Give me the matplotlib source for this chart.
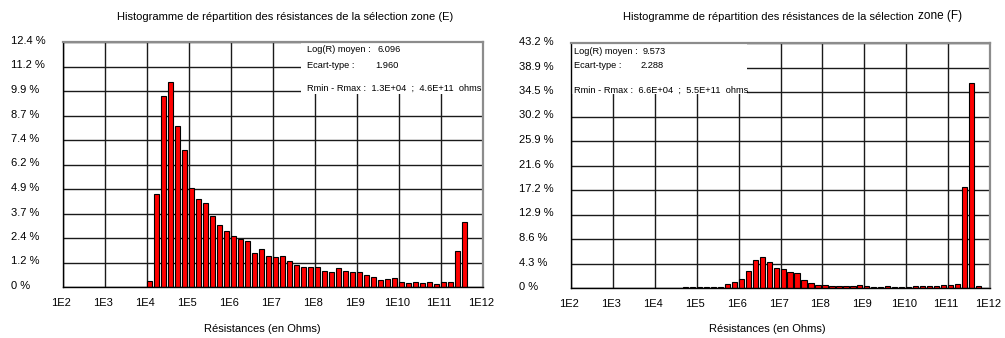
import matplotlib.pyplot as plt
import matplotlib.patches as patches
from matplotlib.transforms import ScaledTranslation

plt.rcParams['font.family'] = ['Liberation Sans', 'DejaVu Sans']

# histogrammes par classes de 1/6 de décade (log10 de la borne basse)
start_e = 4.0
pct_e = [0.30, 4.71, 9.69, 10.38, 8.16, 6.91, 5.00, 4.45, 4.27, 3.59,
         3.12, 2.83, 2.57, 2.42, 2.34, 1.73, 1.90, 1.56, 1.51, 1.56,
         1.32, 1.12, 1.00, 1.00, 1.00, 0.80, 0.76, 0.97, 0.81, 0.76,
         0.76, 0.59, 0.52, 0.36, 0.39, 0.44, 0.25, 0.20, 0.27, 0.22,
         0.27, 0.17, 0.23, 0.23, 1.81, 3.29]

start_f = 4.0 + 4 / 6
pct_f = [0.10, 0.10, 0.10, 0.10, 0.10, 0.20, 0.70, 1.10, 1.60, 3.00,
         4.90, 5.40, 4.60, 3.60, 3.30, 2.90, 2.60, 1.40, 0.80, 0.50,
         0.50, 0.30, 0.30, 0.30, 0.30, 0.45, 0.30, 0.20, 0.20, 0.30,
         0.20, 0.20, 0.20, 0.30, 0.30, 0.30, 0.30, 0.45, 0.60, 0.70,
         17.8, 36.1, 0.30]

ymax_e = 12.4
ylab_e = ['0 %', '1.2 %', '2.4 %', '3.7 %', '4.9 %', '6.2 %', '7.4 %', '8.7 %', '9.9 %', '11.2 %', '12.4 %']
ymax_f = 43.2
ylab_f = ['0 %', '4.3 %', '8.6 %', '12.9 %', '17.2 %', '21.6 %', '25.9 %', '30.2 %', '34.5 %', '38.9 %', '43.2 %']
decades = list(range(2, 13))
xlab = ['1E%d' % d for d in decades]

stats_e = ['6.096', '1.960', '1.3E+04', '4.6E+11']
stats_f = ['9.573', '2.288', '6.6E+04', '5.5E+11']

W, H = 1005, 338
fig = plt.figure(figsize=(W / 100, H / 100), dpi=100)


def px(x, y):
    return x / W, 1 - y / H


def draw(rect, start, pct, ymax, ylabels, white):
    ax = fig.add_axes(rect)
    ax.set_axisbelow(True)
    step = 1 / 6
    lefts = [start + i * step for i in range(len(pct))]
    ax.bar(lefts, pct, width=step * 0.74, align='edge', color='#ff0000',
           edgecolor='black', linewidth=0.8, zorder=2)
    ax.set_xlim(2, 12)
    ax.set_ylim(0, ymax)
    ax.set_xticks(decades)
    ax.set_xticklabels(xlab, fontsize=8)
    yt = [ymax * i / 10 for i in range(11)]
    ax.set_yticks(yt)
    ax.set_yticklabels(ylabels, fontsize=8, ha='left')
    ax.tick_params(axis='y', length=0, pad=52 * 0.72)
    ax.tick_params(axis='x', length=0, pad=8)
    off = ScaledTranslation(0, 2 / 100, fig.dpi_scale_trans)
    for t in ax.get_yticklabels():
        t.set_transform(t.get_transform() + off)
    off_x = ScaledTranslation(-2 / 100, 0, fig.dpi_scale_trans)
    for t in ax.get_xticklabels():
        t.set_transform(t.get_transform() + off_x)
    ax.grid(True, color='#1a1a1a', linewidth=1.0)
    for s in ['left', 'bottom']:
        ax.spines[s].set_color('black')
        ax.spines[s].set_linewidth(1.0)
    for s in ['top', 'right']:
        ax.spines[s].set_color('#8c8c8c')
        ax.spines[s].set_linewidth(1.6)
    # cadre blanc sous les statistiques
    ax.add_patch(patches.Rectangle((white[0], white[1]), white[2], white[3],
                                   transform=ax.transAxes, facecolor='white',
                                   edgecolor='none', zorder=1.5))
    return ax


ax1 = draw([63 / W, 1 - 287 / H, 420 / W, 245 / H], start_e, pct_e, ymax_e, ylab_e,
           (0.567, 0.788, 0.433, 0.212))
ax2 = draw([571 / W, 1 - 288 / H, 419 / W, 245 / H], start_f, pct_f, ymax_f, ylab_f,
           (0.0, 0.792, 0.42, 0.208))

# titres
fig.text(*px(285, 17), 'Histogramme de répartition des résistances de la sélection zone (E)',
         ha='center', va='center', fontsize=8)
fig.text(*px(914, 17), 'Histogramme de répartition des résistances de la sélection',
         ha='right', va='center', fontsize=8)
fig.text(*px(918, 16), 'zone (F)', ha='left', va='center', fontsize=8.5)

# axes x
fig.text(*px(262, 329), 'Résistances (en Ohms)', ha='center', va='center', fontsize=8)
fig.text(*px(767, 329), 'Résistances (en Ohms)', ha='center', va='center', fontsize=8)

# statistiques
fs = 6.7
fig.text(*px(307, 49), 'Log(R) moyen :', va='center', fontsize=fs)
fig.text(*px(377, 49), stats_e[0], va='center', fontsize=fs)
fig.text(*px(307, 65), 'Ecart-type :', va='center', fontsize=fs)
fig.text(*px(375, 65), stats_e[1], va='center', fontsize=fs)
fig.text(*px(307, 88), 'Rmin - Rmax :  %s  ;  %s  ohms' % (stats_e[2], stats_e[3]),
         va='center', fontsize=fs)

fig.text(*px(574, 51), 'Log(R) moyen :', va='center', fontsize=fs)
fig.text(*px(643, 51), stats_f[0], va='center', fontsize=fs)
fig.text(*px(574, 66), 'Ecart-type :', va='center', fontsize=fs)
fig.text(*px(641, 66), stats_f[1], va='center', fontsize=fs)
fig.text(*px(574, 90), 'Rmin - Rmax :  %s  ;  %s  ohms' % (stats_f[2], stats_f[3]),
         va='center', fontsize=fs)

fig.savefig('out.png', dpi=100)
